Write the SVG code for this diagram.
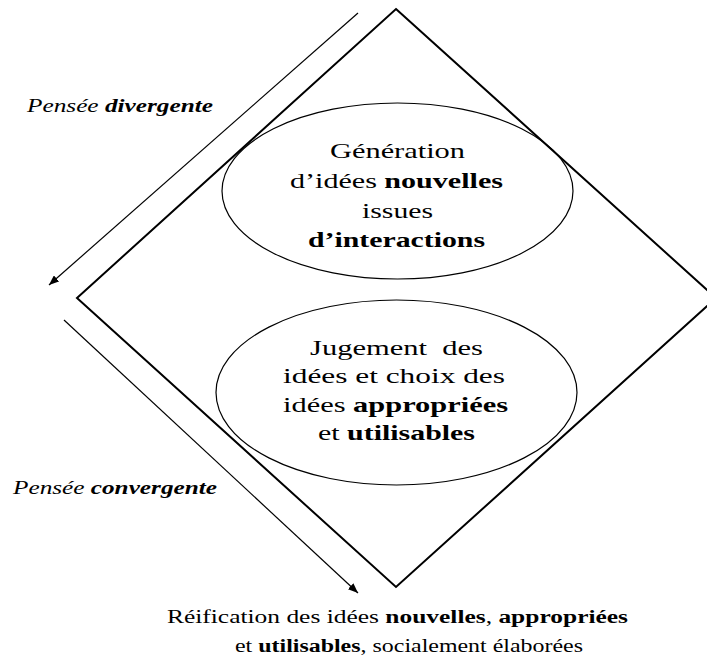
<svg xmlns="http://www.w3.org/2000/svg" width="707" height="657" viewBox="0 0 707 657">
<style>
.t{font-family:'Liberation Serif','DejaVu Serif','Times New Roman',serif;fill:#000}
.e{font-size:22px}
.l{font-size:18px;font-style:italic}
.b{font-weight:bold}
.s{font-size:18px}
.shape{fill:none;stroke:#000}
.arr{stroke:#000;stroke-width:1.2;fill:none}
</style>
<defs>
<marker id="ah" viewBox="0 0 10 8" refX="10" refY="4" markerWidth="10" markerHeight="8" markerUnits="userSpaceOnUse" orient="auto">
<path d="M0,0 L10,4 L0,8 Z" fill="#000"/>
</marker>
</defs>
<rect width="707" height="657" fill="#fff"/>
<g id="diamond">
<polygon class="shape" stroke-width="2" points="396,9 716,298 396,587 77,298"/>
</g>
<g id="connectors">
<line class="arr" x1="358" y1="13" x2="49" y2="285" marker-end="url(#ah)"/>
<line class="arr" x1="64" y1="320" x2="358" y2="593" marker-end="url(#ah)"/>
</g>
<g id="label-divergente">
<text class="t l" font-family="Liberation Serif, serif" x="27" y="112" textLength="186" lengthAdjust="spacingAndGlyphs">Pensée <tspan class="b">divergente</tspan></text>
</g>
<g id="label-convergente">
<text class="t l" font-family="Liberation Serif, serif" x="13" y="494" textLength="204" lengthAdjust="spacingAndGlyphs">Pensée <tspan class="b">convergente</tspan></text>
</g>
<g id="node-generation">
<ellipse class="shape" stroke-width="1.2" cx="397.5" cy="191" rx="175.5" ry="88"/>
<text class="t e" x="330" y="158" textLength="135" lengthAdjust="spacingAndGlyphs">Génération</text>
<text class="t e" x="290" y="188" textLength="213" lengthAdjust="spacingAndGlyphs">d’idées <tspan class="b">nouvelles</tspan></text>
<text class="t e" x="362" y="218" textLength="71" lengthAdjust="spacingAndGlyphs">issues</text>
<text class="t e b" x="308" y="247" textLength="177" lengthAdjust="spacingAndGlyphs">d’interactions</text>
</g>
<g id="node-jugement">
<ellipse class="shape" stroke-width="1.2" cx="396.5" cy="392.5" rx="180.5" ry="92.5"/>
<text class="t e" x="310" y="355" textLength="173" lengthAdjust="spacingAndGlyphs">Jugement&#160; des</text>
<text class="t e" x="283" y="383" textLength="222" lengthAdjust="spacingAndGlyphs">idées et choix des</text>
<text class="t e" x="283" y="412" textLength="225" lengthAdjust="spacingAndGlyphs">idées <tspan class="b">appropriées</tspan></text>
<text class="t e" x="318" y="440" textLength="157" lengthAdjust="spacingAndGlyphs">et <tspan class="b">utilisables</tspan></text>
</g>
<g id="node-reification">
<text class="t s" x="167" y="623" textLength="461" lengthAdjust="spacingAndGlyphs">Réification des idées <tspan class="b">nouvelles</tspan>, <tspan class="b">appropriées</tspan></text>
<text class="t s" x="235" y="652" textLength="348" lengthAdjust="spacingAndGlyphs">et <tspan class="b">utilisables</tspan>, socialement élaborées</text>
</g>
</svg>
